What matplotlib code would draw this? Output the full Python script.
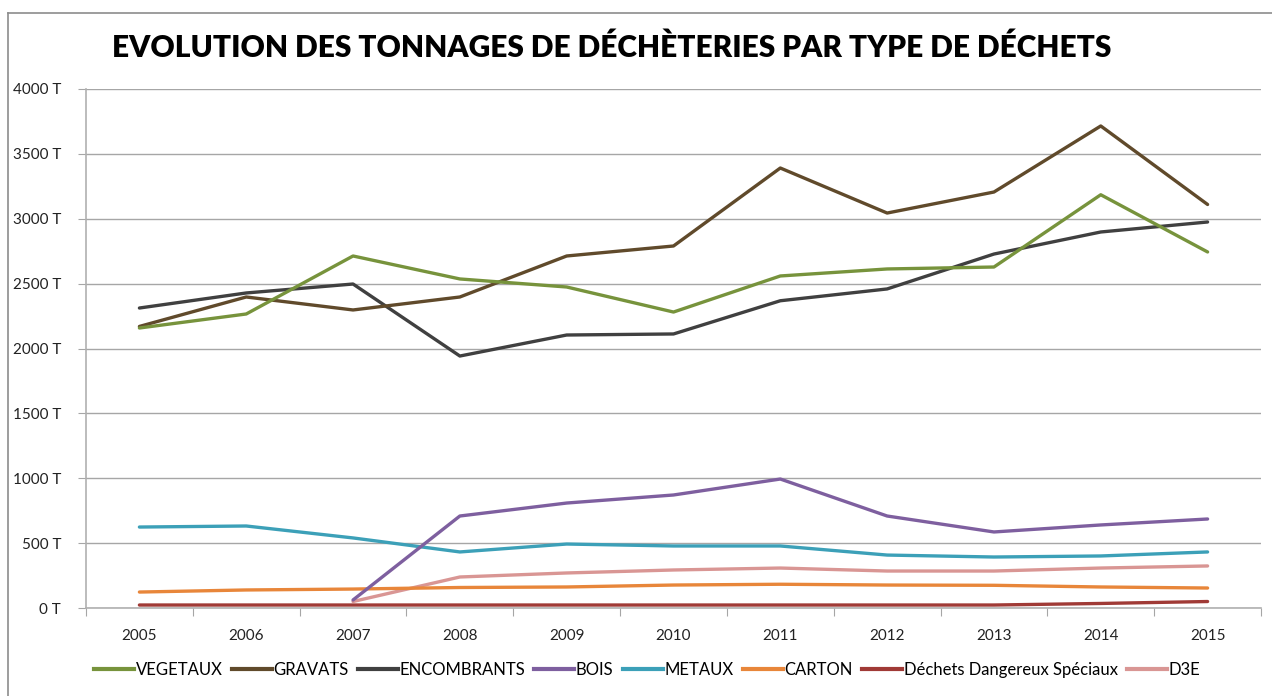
import matplotlib.pyplot as plt
from matplotlib.lines import Line2D

plt.rcParams['font.family'] = ['Lato', 'DejaVu Sans']

years = ['2005', '2006', '2007', '2008', '2009', '2010', '2011', '2012', '2013', '2014', '2015']

vegetaux = [2158, 2266, 2713, 2536, 2474, 2281, 2559, 2613, 2628, 3185, 2744]
gravats = [2170, 2397, 2297, 2397, 2713, 2790, 3391, 3044, 3206, 3715, 3110]
encombrants = [2312, 2428, 2497, 1942, 2104, 2112, 2368, 2459, 2728, 2898, 2975]
bois = [None, None, 62, 709, 809, 871, 994, 709, 586, 640, 686]
metaux = [624, 632, 540, 432, 493, 478, 478, 408, 393, 401, 432]
carton = [123, 139, 146, 158, 162, 177, 183, 177, 175, 162, 154]
dds = [23, 23, 23, 23, 23, 23, 23, 23, 23, 35, 50]
d3e = [None, None, 50, 239, 270, 293, 308, 285, 285, 308, 324]

names = ['VEGETAUX', 'GRAVATS', 'ENCOMBRANTS', 'BOIS', 'METAUX', 'CARTON',
         'Déchets Dangereux Spéciaux', 'D3E']
series = [vegetaux, gravats, encombrants, bois, metaux, carton, dds, d3e]
colors = ['#77933C', '#604A2B', '#404040', '#7E5F9F', '#3CA0B8', '#E8863A',
          '#A03A36', '#D99694']

fig = plt.figure(figsize=(12.72, 6.96), dpi=100)
ax = fig.add_axes([86 / 1272, 1 - 608 / 696, 1175 / 1272, 519 / 696])

xs = list(range(len(years)))
# draw bottom series first so the big ones sit on top
for vals, col in reversed(list(zip(series, colors))):
    pts = [(x, v) for x, v in zip(xs, vals) if v is not None]
    ax.plot([p[0] for p in pts], [p[1] for p in pts], color=col, lw=2.4,
            solid_joinstyle='round', solid_capstyle='round', zorder=3)

ax.set_ylim(0, 4000)
ax.set_yticks(range(0, 4001, 500))
ax.set_yticklabels([f'{v} T' for v in range(0, 4001, 500)], fontsize=11, color='#222222')
ax.grid(axis='y', color='#A6A6A6', lw=1)
ax.set_axisbelow(True)

ax.set_xlim(-0.5, len(years) - 0.5)
ax.set_xticks([i - 0.5 for i in range(len(years) + 1)])
ax.set_xticklabels([])
ax.set_xticks(xs, minor=True)
ax.set_xticklabels(years, minor=True, fontsize=11, color='#222222')
ax.tick_params(axis='x', which='minor', length=0, pad=15)
ax.tick_params(axis='x', which='major', length=6, color='#A6A6A6')
ax.tick_params(axis='y', length=6, color='#A6A6A6', pad=12)

for s in ['top', 'right']:
    ax.spines[s].set_visible(False)
for s in ['left', 'bottom']:
    ax.spines[s].set_color('#B0B0B0')
    ax.spines[s].set_linewidth(1.2)

fig.text(612 / 1272, 1 - 48 / 696, 'EVOLUTION DES TONNAGES DE DÉCHÈTERIES PAR TYPE DE DÉCHETS',
         ha='center', va='center', fontsize=21.5, fontweight='heavy', color='black')

handles = [Line2D([0], [0], color=c, lw=3) for c in colors]
fig.legend(handles, names, loc='center', bbox_to_anchor=(647 / 1272, 1 - 670 / 696),
           ncol=8, frameon=False, fontsize=12, handlelength=2.4, handletextpad=0.1,
           columnspacing=0.55)

# outer chart border (left and top visible in reference)
fig.add_artist(Line2D([8 / 1272, 8 / 1272], [0, 1 - 13 / 696], color='#8C8C8C', lw=1.2,
                      transform=fig.transFigure))
fig.add_artist(Line2D([8 / 1272, 1], [1 - 13 / 696, 1 - 13 / 696], color='#8C8C8C', lw=1.2,
                      transform=fig.transFigure))

fig.savefig('out.png', dpi=100)
